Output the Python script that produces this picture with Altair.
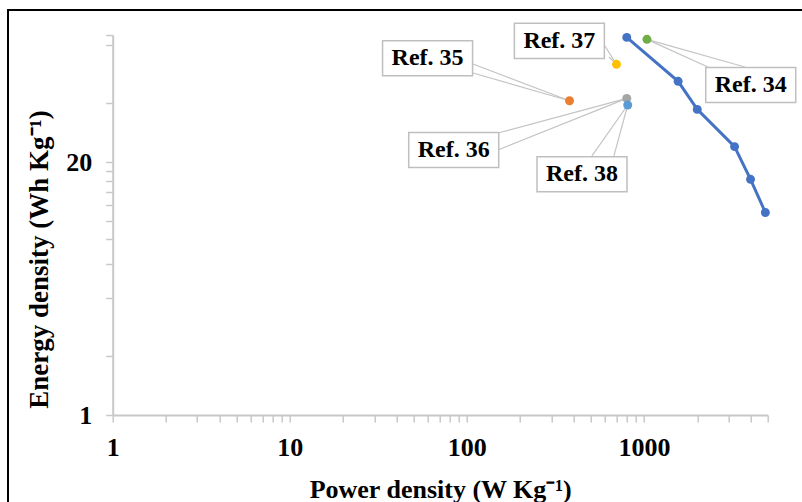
import altair as alt
import pandas as pd

# Main series (blue line with markers)
series_power = [800, 1560, 2000, 3250, 4000, 4850]
series_energy = [87.5, 52.0, 37.3, 24.0, 16.3, 11.0]

# Reference points
ref_names = ["Ref. 34", "Ref. 35", "Ref. 36", "Ref. 37", "Ref. 38"]
ref_power = [1040, 380, 800, 700, 810]
ref_energy = [85.5, 41.3, 42.5, 63.6, 39.3]
ref_colors = ["#70AD47", "#ED7D31", "#A5A5A5", "#FFC000", "#5B9BD5"]

# Callout label anchors (data units)
label_power = [4010, 60, 84.3, 333, 447]
label_energy = [49.8, 68.3, 23.06, 84.0, 17.3]

# Leader line start points (two per label, data units)
lead_a_power = [2298, 108.3, 149.8, 602.6, 508.7]
lead_a_energy = [61.6, 63.8, 28.2, 79.0, 21.5]
lead_b_power = [3718, 108.3, 149.8, 634.5, 677]
lead_b_energy = [61.6, 57.4, 23.06, 69.4, 21.5]

x_ticks = [1, 2, 3, 4, 5, 6, 7, 8, 9, 10, 20, 30, 40, 50, 60, 70, 80, 90,
           100, 200, 300, 400, 500, 600, 700, 800, 900, 1000, 2000, 3000, 4000, 5000]
y_ticks = [1, 2, 4, 6, 8, 10, 12, 14, 16, 18, 20, 40, 80, 90]

FONT = "Liberation Serif"
AX = "#c8c8c8"

series = pd.DataFrame({"p": series_power, "e": series_energy})
refs = pd.DataFrame({"name": ref_names, "p": ref_power, "e": ref_energy, "c": ref_colors,
                     "lp": label_power, "le": label_energy})
leaders = pd.DataFrame({
    "x": [v for pair in zip(lead_a_power, lead_b_power) for v in pair],
    "y": [v for pair in zip(lead_a_energy, lead_b_energy) for v in pair],
    "x2": [v for v in ref_power for _ in range(2)],
    "y2": [v for v in ref_energy for _ in range(2)],
})

xs = alt.Scale(type="log", domain=[1, 5000], nice=False)
ys = alt.Scale(type="log", base=20, domain=[1, 90], nice=False)

x_axis = alt.Axis(
    values=x_ticks, title="Power density (W Kg⁻¹)",
    labelExpr="(datum.value == 1 || datum.value == 10 || datum.value == 100 || datum.value == 1000) ? format(datum.value, 'd') : ''",
    grid=False, domainColor=AX, domainWidth=2, tickColor=AX, tickWidth=1.5, tickSize=7,
    labelFont=FONT, labelFontWeight="bold", labelFontSize=26, labelColor="black",
    labelPadding=12, labelOverlap=False, labelFlush=False,
    titleFont=FONT, titleFontWeight="bold", titleFontSize=26, titleColor="black", titlePadding=16,
)
y_axis = alt.Axis(
    values=y_ticks, title="Energy density (Wh Kg⁻¹)",
    labelExpr="(datum.value == 1 || datum.value == 20) ? format(datum.value, 'd') : ''",
    grid=False, domainColor=AX, domainWidth=2, tickColor=AX, tickWidth=1.5, tickSize=7,
    labelFont=FONT, labelFontWeight="bold", labelFontSize=26, labelColor="black",
    labelPadding=14, labelOverlap=False, labelFlush=False,
    titleFont=FONT, titleFontWeight="bold", titleFontSize=27, titleColor="black",
    titleX=-73, titleY=224, titleAngle=270, titleBaseline="middle", titleAlign="center",
)

base_x = alt.X("p:Q", scale=xs, axis=x_axis)
base_y = alt.Y("e:Q", scale=ys, axis=y_axis)

frame_v = alt.Chart(pd.DataFrame({"a": [0]})).mark_rule(color="black", strokeWidth=2).encode(
    x=alt.value(-104.7), y=alt.value(-25), y2=alt.value(470))
frame_h = alt.Chart(pd.DataFrame({"a": [0]})).mark_rule(color="black", strokeWidth=2).encode(
    x=alt.value(-105.7), x2=alt.value(700), y=alt.value(-25))

lead = alt.Chart(leaders).mark_rule(color="#c4c4c4", strokeWidth=1.2).encode(
    x=alt.X("x:Q", scale=xs, axis=x_axis), y=alt.Y("y:Q", scale=ys, axis=y_axis),
    x2="x2:Q", y2="y2:Q")

line = alt.Chart(series).mark_line(color="#4472C4", strokeWidth=3).encode(x=base_x, y=base_y)
pts = alt.Chart(series).mark_circle(color="#4472C4", size=80, opacity=1).encode(x=base_x, y=base_y)

ref_pts = alt.Chart(refs).mark_circle(size=80, opacity=1).encode(
    x=base_x, y=base_y, color=alt.Color("c:N", scale=None))

box_shape = "M-1,-0.39 L1,-0.39 L1,0.39 L-1,0.39 Z"
boxes = alt.Chart(refs).mark_point(
    shape=box_shape, size=90 * 90, filled=True, fill="white", stroke="#bfbfbf",
    strokeWidth=1.5, opacity=1, fillOpacity=1).encode(
    x=alt.X("lp:Q", scale=xs, axis=x_axis), y=alt.Y("le:Q", scale=ys, axis=y_axis))

texts = alt.Chart(refs).mark_text(
    font=FONT, fontWeight="bold", fontSize=24, color="black", align="center", baseline="middle").encode(
    x=alt.X("lp:Q", scale=xs, axis=x_axis), y=alt.Y("le:Q", scale=ys, axis=y_axis), text="name:N")

chart = alt.layer(frame_v, frame_h, lead, line, pts, ref_pts, boxes, texts).properties(
    width=655, height=380,
    autosize=alt.AutoSizeParams(type="none"),
    padding={"left": 112.7, "top": 35, "right": 34.3, "bottom": 87},
    background="white",
).configure_view(stroke=None)

chart.save("out.html", embed_options={"renderer": "svg", "actions": False})
